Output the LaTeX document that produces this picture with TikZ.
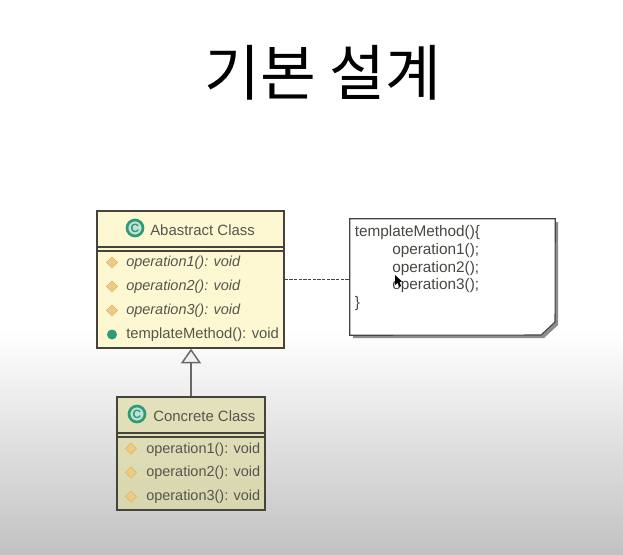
\documentclass[tikz,border=0pt]{standalone}
\usepackage{fontspec}
\setmainfont{Liberation Sans}
\newfontfamily\krfont{Noto Sans CJK KR}
\usetikzlibrary{arrows.meta}
\usetikzlibrary{shapes.geometric}
\pgfdeclarelayer{background}
\pgfdeclarelayer{foreground}
\pgfsetlayers{background,main,foreground}
\definecolor{classfill}{HTML}{FDF8D2}
\definecolor{concretetop}{HTML}{E4E2BC}
\definecolor{concretebottom}{HTML}{D8D6AE}
\definecolor{classline}{HTML}{44443C}
\definecolor{labeltext}{HTML}{55554F}
\definecolor{icongreen}{HTML}{2F9A78}
\definecolor{opfill}{HTML}{EFCB82}
\definecolor{opfilldark}{HTML}{D8B56E}

\begin{document}
\begin{tikzpicture}[
	x=0.75pt, y=-0.75pt,
	classbox/.style={rectangle, draw=classline, line width=1pt, inner sep=0pt},
	classicon/.style={circle, draw=icongreen, line width=2pt, fill=white!70!icongreen, inner sep=0pt, minimum size=12pt, text=icongreen, font=\bfseries\fontsize{9}{9}\selectfont},
	title/.style={anchor=west, inner sep=0pt, text=labeltext, font=\fontsize{11.2}{12}\selectfont},
	opname/.style={anchor=west, inner sep=0pt, text=labeltext, font=\fontsize{10.85}{12}\selectfont},
	absname/.style={opname, font=\itshape\fontsize{10.85}{12}\selectfont},
	opdot/.style={diamond, fill=opfill, draw=opfilldark, line width=0.4pt, inner sep=0pt, minimum size=8.5pt},
	pubdot/.style={circle, fill=icongreen, inner sep=0pt, minimum size=7.5pt},
	notetext/.style={anchor=west, inner sep=0pt, text=labeltext!85!black, font=\fontsize{11.5}{12}\selectfont},
	]
	%Nodes
	\node (heading) at (323,73) {\krfont\fontsize{45.5}{50}\selectfont 기본 설계};

	\node[classbox, fill=classfill, minimum width=140.25pt, minimum height=102.75pt] (abstract) at (190.5,279.5) {};
	\node[classicon] (abstracticon) at (135,228) {C};
	\node[title] (abstractname) at (150,230) {Abastract Class};
	\node[opdot] (absdot1) at (112,262.5) {};
	\node[opdot] (absdot2) at (112,286.5) {};
	\node[opdot] (absdot3) at (112,310.5) {};
	\node[pubdot] (absdot4) at (112,334.5) {};
	\node[absname] (absop1) at (126,263) {operation1(): void};
	\node[absname] (absop2) at (126,287) {operation2(): void};
	\node[absname] (absop3) at (126,311) {operation3(): void};
	\node[opname, font=\fontsize{11.1}{12}\selectfont] (absop4) at (126,335) {templateMethod(): void};

	\node[classbox, top color=concretetop, bottom color=concretebottom, draw=classline, minimum width=111pt, minimum height=84.75pt] (concrete) at (191,453.5) {};
	\node[classicon] (concreteicon) at (137,414) {C};
	\node[title] (concretename) at (153,416) {Concrete Class};
	\node[opdot] (condot1) at (131,448.5) {};
	\node[opdot] (condot2) at (131,472.5) {};
	\node[opdot] (condot3) at (131,496.5) {};
	\node[opname] (conop1) at (146,450) {operation1(): void};
	\node[opname] (conop2) at (146,473) {operation2(): void};
	\node[opname] (conop3) at (146,497) {operation3(): void};

	\node[minimum width=153.75pt, minimum height=87pt, inner sep=0pt] (note) at (452.5,277) {};
	\node[notetext] (line1) at (354.5,233) {templateMethod()\{};
	\node[notetext] (line2) at (392,251) {operation1();};
	\node[notetext] (line3) at (392,269) {operation2();};
	\node[notetext] (line4) at (392,286) {operation3();};
	\node[notetext] (line5) at (354.5,304) {\}};

	\begin{pgfonlayer}{background}
	\fill[white] (0,0) rectangle (623,554);
	\shade[top color=white, bottom color=black!24] (0,330) rectangle (623,554);

	% note outline and its shadow
	\fill[black!45] (353,222) -- (558,222) -- (558,325) -- (544,338) -- (353,338) -- cycle;
	\fill[white, draw=classline, line width=0.8pt] (note.north west) -- (note.north east) -- (555,322) -- (541,335) -- (note.south west) -- cycle;
	\draw[classline, line width=0.6pt, dash pattern=on 2.5pt off 1pt] (abstract.east) -- (abstract.east -| note.west);
	\end{pgfonlayer}

	\draw[classline, line width=0.9pt] (97,247) -- (284,247);
	\draw[classline, line width=0.9pt] (97,251) -- (284,251);
	\draw[classline, line width=0.9pt] (117,433) -- (265,433);
	\draw[classline, line width=0.9pt] (117,437) -- (265,437);
	\draw[classline!80, line width=1.1pt, -{Triangle[open, fill=black!6, length=11pt, width=15pt]}] (concrete.north) -- (concrete.north |- abstract.south);

	\begin{pgfonlayer}{foreground}
	% mouse pointer
	\fill[black] (395,275) -- (395,285) -- (397.5,283) -- (399.5,287) -- (401,286) -- (399.5,282) -- (402,281.5) -- cycle;
	\end{pgfonlayer}
\end{tikzpicture}
\end{document}
